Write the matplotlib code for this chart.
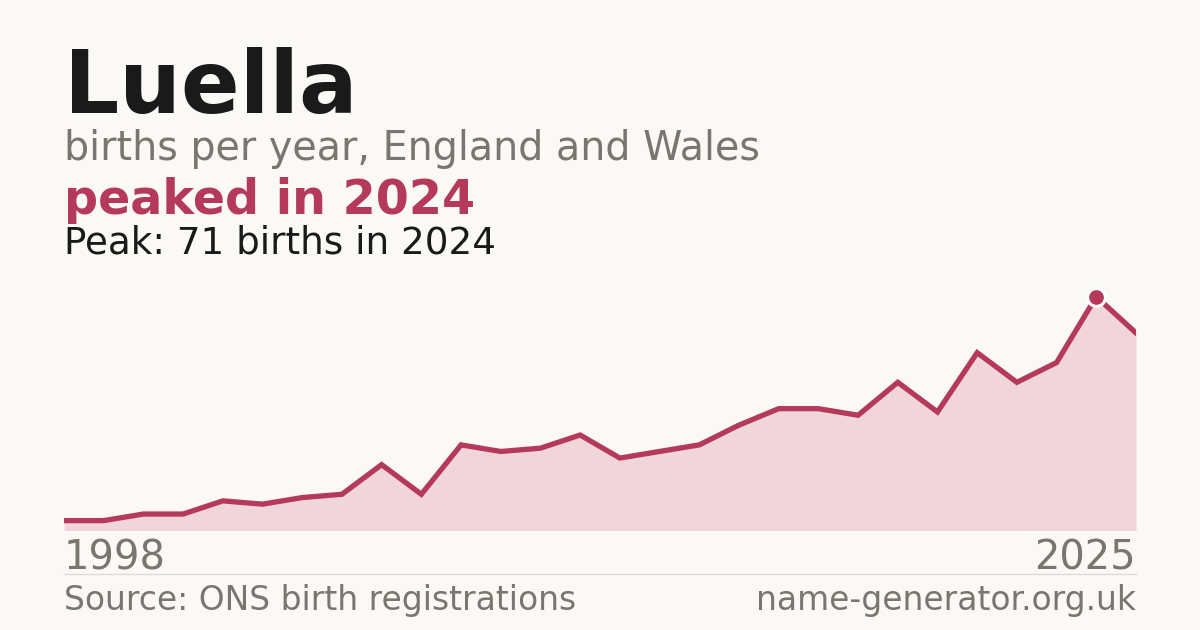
import matplotlib
matplotlib.use("Agg")
import matplotlib.pyplot as plt
from matplotlib.lines import Line2D

plt.rcParams['font.family'] = ['DejaVu Sans']

years = list(range(1998, 2026))
births = [3, 3, 5, 5, 9, 8, 10, 11, 20, 11, 26, 24, 25, 29, 22, 24, 26, 32,
          37, 37, 35, 45, 36, 54, 45, 51, 71, 60]

name = "Luella"
subtitle = "births per year, England and Wales"
headline = "peaked in 2024"
peak_text = "Peak: 71 births in 2024"
source_text = "Source: ONS birth registrations"
site_text = "name-generator.org.uk"

BG = "#faf9f5"
RED = "#b5395a"
FILL = "#f0d5da"
GREY = "#7a756e"
DARK = "#1a1a1a"

W, H = 1200, 630
fig = plt.figure(figsize=(12, 6.3), dpi=100, facecolor=BG)

# axes: x 64..1136 px, y zero at 530.5 px, 71 at 296.7 px
ymax = 80
px_per = (530.5 - 296.7) / 71
ax_h = ymax * px_per
ax = fig.add_axes([64 / W, (H - 530.5) / H, 1072 / W, ax_h / H])
ax.set_facecolor("none")
ax.set_xlim(years[0], years[-1])
ax.set_ylim(0, ymax)
ax.axis("off")

ax.fill_between(years, births, 0, color=FILL, linewidth=0)
ax.plot(years, births, color=RED, linewidth=3.8, solid_joinstyle="miter")
pk = births.index(max(births))
ax.plot([years[pk]], [births[pk]], marker="o", markersize=12.8, color=RED,
        markeredgecolor="white", markeredgewidth=2.2, clip_on=False, zorder=5)

def fy(y):
    return 1 - y / H

fig.text(64 / W, fy(112.7), name, fontsize=62.5, fontweight="bold",
         color=DARK, va="baseline", ha="left")
fig.text(64 / W, fy(160), subtitle, fontsize=28.5, color=GREY,
         va="baseline", ha="left")
fig.text(64 / W, fy(214), headline, fontsize=34.3, fontweight="bold",
         color=RED, va="baseline", ha="left")
fig.text(64 / W, fy(254), peak_text, fontsize=26.8, color=DARK,
         va="baseline", ha="left")

fig.text(64 / W, fy(570), str(years[0]), fontsize=28.8, color=GREY,
         va="baseline", ha="left")
fig.text(1136 / W, fy(570), str(years[-1]), fontsize=28.8, color=GREY,
         va="baseline", ha="right")

fig.add_artist(Line2D([64 / W, 1136 / W], [fy(574), fy(574)],
                      color="#dddbd5", linewidth=1))

fig.text(64 / W, fy(610), source_text, fontsize=23.7, color=GREY,
         va="baseline", ha="left")
fig.text(1136 / W, fy(610), site_text, fontsize=23.7, color=GREY,
         va="baseline", ha="right")

fig.savefig("out.png", dpi=100, facecolor=BG)
